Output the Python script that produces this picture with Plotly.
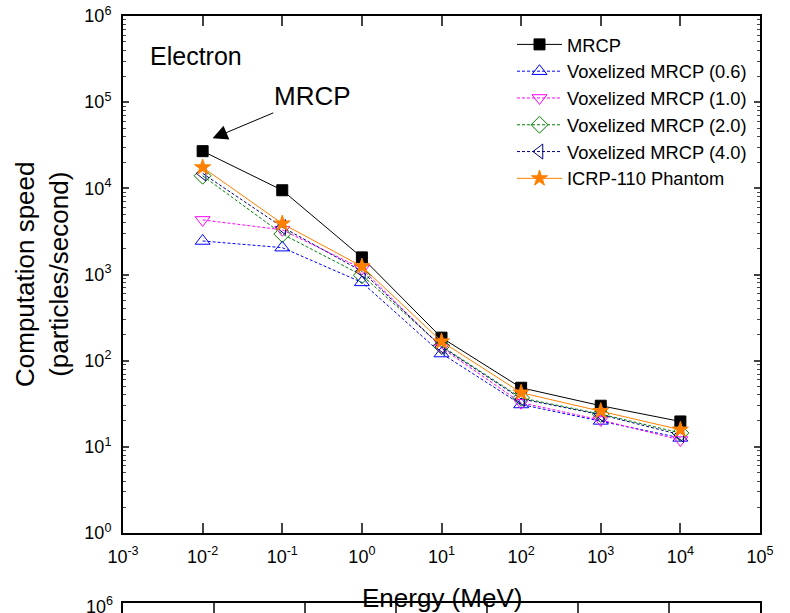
import plotly.graph_objects as go

energy = [0.01, 0.1, 1, 10, 100, 1000, 10000]
mrcp = [27000, 9500, 1580, 185, 48.5, 30, 19.7]
vox06 = [2450, 2050, 810, 121, 31, 20, 12.7]
vox10 = [4300, 3300, 1170, 141, 32.5, 20.5, 12.0]
vox20 = [14000, 2950, 980, 148, 37, 24, 14.5]
vox40 = [14900, 3550, 1090, 145, 36, 23.6, 13.8]
icrp = [17500, 3900, 1240, 167, 42.5, 26, 15.8]

series = [
    ("MRCP", mrcp, "black", "square", "solid", 11),
    ("Voxelized MRCP (0.6)", vox06, "#0000FF", "triangle-up-open", "3px,2px", 13),
    ("Voxelized MRCP (1.0)", vox10, "#FF00FF", "triangle-down-open", "3px,2px", 13),
    ("Voxelized MRCP (2.0)", vox20, "#008000", "diamond-open", "3px,2px", 13),
    ("Voxelized MRCP (4.0)", vox40, "#000080", "triangle-left-open", "3px,2px", 13),
    ("ICRP-110 Phantom", icrp, "#FF8000", "star", "solid", 12),
]

FONT = "Arial, Liberation Sans, sans-serif"
fig = go.Figure()
for i, (name, vals, col, sym, dash, sz) in enumerate(series):
    fig.add_trace(go.Scatter(
        x=energy, y=vals, name=name, mode="lines+markers",
        line=dict(color=col, width=1, dash=dash),
        marker=dict(symbol=sym, size=sz, color=col, line=dict(color=col, width=1)),
        legendgroup=str(i), xaxis="x", yaxis="y"))

# cut-off lower panel frame (top edge only visible)
fig.add_trace(go.Scatter(x=[], y=[], xaxis="x2", yaxis="y2", showlegend=False))

xt = [10.0 ** k for k in range(-3, 6)]
xtt = ["10<sup>%d</sup>" % k for k in range(-3, 6)]
yt = [10.0 ** k for k in range(0, 7)]
ytt = ["10<sup>%d</sup>" % k for k in range(0, 7)]

ybot = 80 / 597
fig.update_layout(
    width=790, height=613,
    margin=dict(l=123, r=30, t=16, b=0, autoexpand=False),
    paper_bgcolor="white", plot_bgcolor="white",
    font=dict(family=FONT, color="black", size=18),
    showlegend=True,
    legend=dict(x=(512 - 123) / 637, y=(613 - 26) / 597, xanchor="left", yanchor="top",
                bgcolor="rgba(0,0,0,0)", font=dict(size=18.3, family=FONT),
                tracegroupgap=0, itemwidth=45),
    xaxis=dict(type="log", range=[-3, 5], domain=[0, 1], anchor="y", automargin=False,
               tickvals=xt, ticktext=xtt, ticks="inside", ticklen=10, tickwidth=1.5,
               showline=True, linewidth=2, linecolor="black", mirror="ticks",
               showgrid=False, zeroline=False, ticklabelstandoff=6,
               tickfont=dict(size=18)),
    yaxis=dict(type="log", range=[0, 6], domain=[ybot, 1], anchor="x", automargin=False,
               tickvals=yt, ticktext=ytt, ticks="inside", ticklen=6, tickwidth=1.5,
               showline=True, linewidth=2, linecolor="black", mirror="allticks",
               showgrid=False, zeroline=False, ticklabelstandoff=6,
               minor=dict(ticks="inside", ticklen=3, dtick="D1", showgrid=False, tickwidth=1),
               tickfont=dict(size=18)),
    xaxis2=dict(type="log", range=[-2, 5], domain=[0, 1], anchor="y2", side="top",
                automargin=False,
                dtick=1, ticks="inside", ticklen=10, tickwidth=1.5, showticklabels=False,
                showline=True, linewidth=2, linecolor="black", showgrid=False, zeroline=False),
    yaxis2=dict(type="log", range=[6 - 10 / 86, 6], domain=[0, 10 / 597], anchor="x2",
                automargin=False, showticklabels=False, ticks="", showline=True,
                linewidth=2, linecolor="black", mirror=True, showgrid=False,
                zeroline=False),
    annotations=[
        dict(text="Electron", xref="paper", yref="paper", x=(148 - 123) / 637,
             y=(613 - 56) / 597, xanchor="left", yanchor="middle", showarrow=False,
             font=dict(size=25, family=FONT)),
        dict(text="MRCP", xref="x", yref="y", x=-1.875, y=4.58, ax=100, ay=-42,
             showarrow=True, arrowhead=2, arrowsize=3, arrowwidth=1, arrowcolor="black",
             font=dict(size=26, family=FONT)),
        dict(text="Computation speed<br>(particles/second)", xref="paper", yref="paper",
             x=(42 - 123) / 637, y=(613 - 275) / 597, xanchor="center", yanchor="middle",
             textangle=-90, showarrow=False, font=dict(size=26, family=FONT)),
        dict(text="Energy (MeV)", xref="paper", yref="paper", x=0.5,
             y=(613 - 598) / 597, xanchor="center", yanchor="middle",
             showarrow=False, font=dict(size=26, family=FONT)),
        dict(text="10<sup>6</sup>", xref="paper", yref="paper", x=(115 - 123) / 637,
             y=(613 - 605) / 597, xanchor="right", yanchor="middle",
             showarrow=False, font=dict(size=18, family=FONT)),
    ],
)

fig.write_html("out.html")
